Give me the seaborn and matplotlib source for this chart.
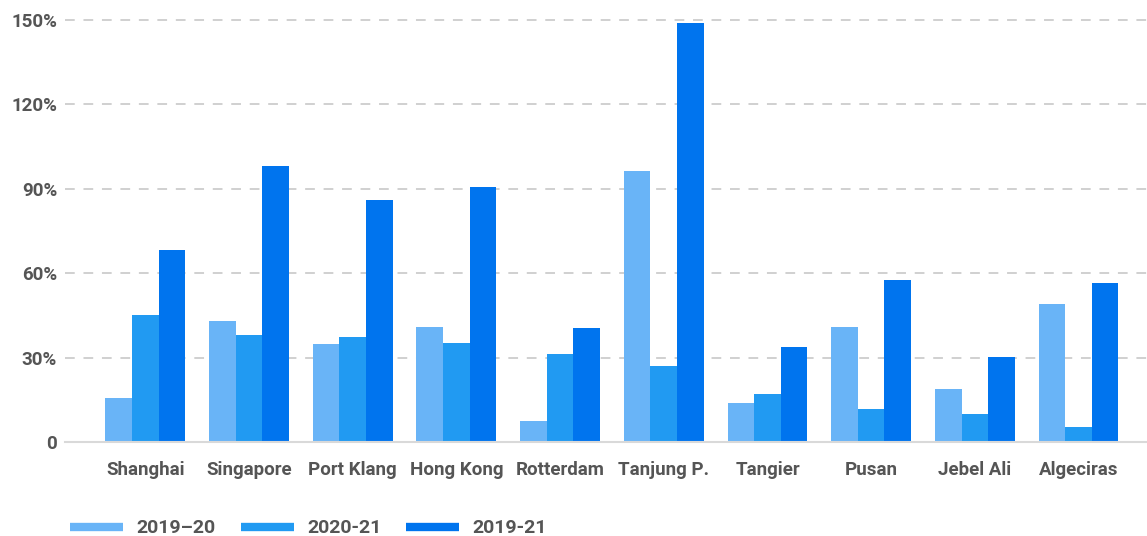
import matplotlib
matplotlib.use("Agg")
import matplotlib.pyplot as plt
from matplotlib.lines import Line2D
import seaborn as sns
import pandas as pd

ports = ["Shanghai", "Singapore", "Port Klang", "Hong Kong", "Rotterdam",
         "Tanjung P.", "Tangier", "Pusan", "Jebel Ali", "Algeciras"]
periods = ["2019\u201320", "2020-21", "2019-21"]
growth_19_20 = [15.5, 43.1, 34.8, 41.0, 7.5, 96.3, 14.0, 40.9, 18.7, 49.2]
growth_20_21 = [45.1, 38.0, 37.4, 35.1, 31.2, 27.0, 17.2, 11.6, 9.8, 5.3]
growth_19_21 = [68.3, 98.2, 86.0, 90.5, 40.6, 148.8, 33.8, 57.5, 30.2, 56.6]
colors = ["#69B4F7", "#219AF2", "#0074EE"]
yticks = [0, 30, 60, 90, 120, 150]
ytick_labels = ["0", "30%", "60%", "90%", "120%", "150%"]

rows = []
for series, vals in zip(periods, [growth_19_20, growth_20_21, growth_19_21]):
    for p, v in zip(ports, vals):
        rows.append({"port": p, "period": series, "value": v})
df = pd.DataFrame(rows)

sns.set_theme(style="white")
plt.rcParams["font.family"] = ["Roboto", "DejaVu Sans"]

fig = plt.figure(figsize=(11.47, 5.36), dpi=100)
ax = fig.add_axes([0.057, 0.1754, 0.943, 0.7976])

sns.barplot(data=df, x="port", y="value", hue="period", order=ports,
            hue_order=periods, palette=colors, width=0.77, gap=0,
            saturation=1, linewidth=0, ax=ax, legend=False)

ax.set_ylim(0, 152)
ax.set_xlim(-0.77, 9.66)
ax.set_yticks(yticks)
ax.set_yticklabels(ytick_labels)
ax.set_xlabel("")
ax.set_ylabel("")
for s in ["top", "right", "left"]:
    ax.spines[s].set_visible(False)
ax.spines["bottom"].set_color("#d9d9d9")
ax.spines["bottom"].set_linewidth(1.5)
ax.yaxis.grid(True, linestyle=(0, (5, 4.5)), color="#d0d0d0", linewidth=1.4)
ax.set_axisbelow(True)
ax.tick_params(axis="both", length=0, colors="#555555", labelsize=13.5)
ax.tick_params(axis="x", pad=14)
ax.tick_params(axis="y", pad=6)
for lab in ax.get_xticklabels() + ax.get_yticklabels():
    lab.set_fontweight("semibold")
    lab.set_color("#555555")

handles = [Line2D([0], [0], color=c, linewidth=6, solid_capstyle="butt") for c in colors]
fig.legend(handles, periods, loc="center left", bbox_to_anchor=(0.046, 0.014),
           ncol=3, frameon=False, handlelength=2.73, columnspacing=1.3,
           handletextpad=0.67, prop={"size": 14, "weight": "semibold"},
           labelcolor="#555555")

fig.savefig("out.png", dpi=100)
